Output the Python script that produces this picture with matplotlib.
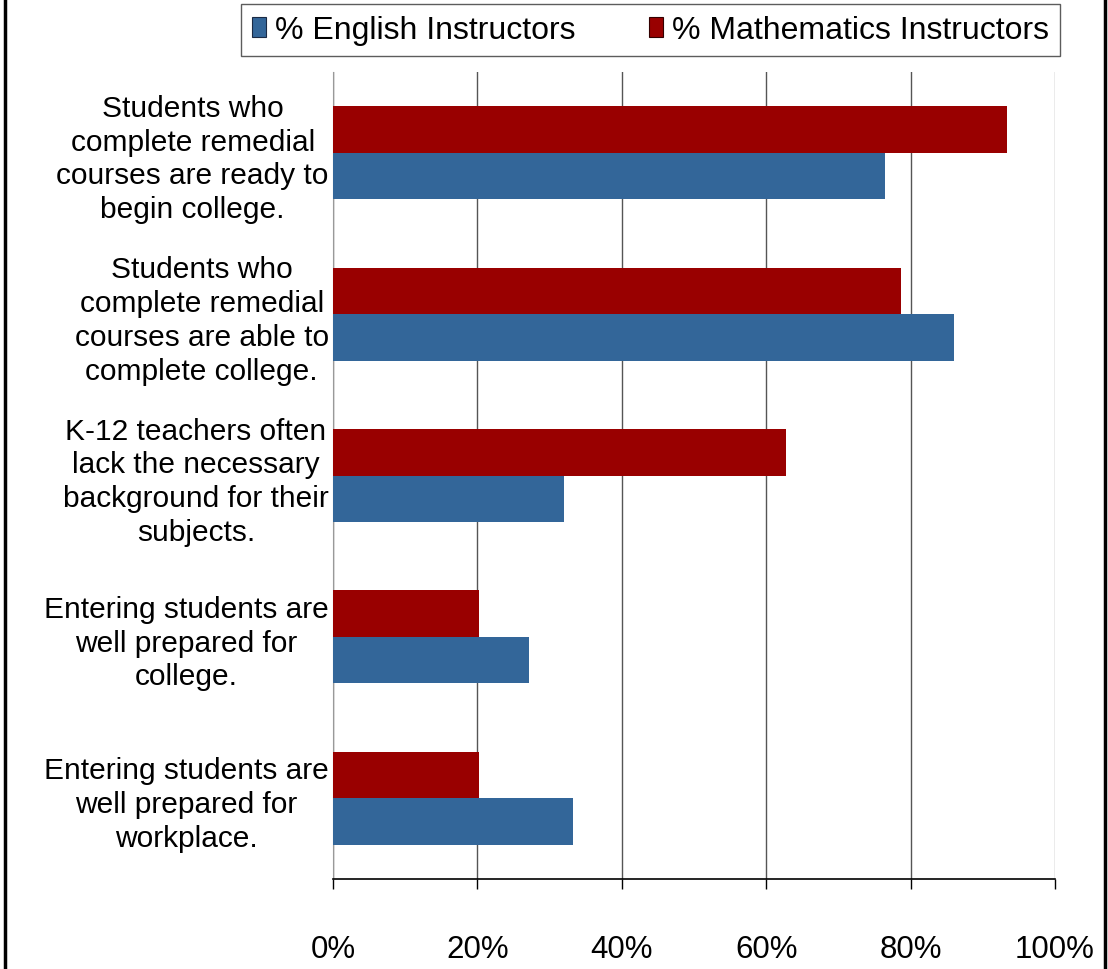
import matplotlib.pyplot as plt
from matplotlib.patches import Patch
from matplotlib.lines import Line2D
import numpy as np

plt.rcParams['font.family'] = ['Liberation Sans', 'DejaVu Sans']

categories = [
    "Students who\ncomplete remedial\ncourses are ready to\nbegin college.",
    "Students who\ncomplete remedial\ncourses are able to\ncomplete college.",
    "K-12 teachers often\nlack the necessary\nbackground for their\nsubjects.",
    "Entering students are\nwell prepared for\ncollege.",
    "Entering students are\nwell prepared for\nworkplace.",
]
english_pct = [76.5, 86.0, 32.0, 27.2, 33.2]
math_pct = [93.3, 78.7, 62.8, 20.2, 20.2]
x_ticks = [0, 20, 40, 60, 80, 100]

blue = '#336699'
red = '#990000'

fig = plt.figure(figsize=(11.08, 9.70), dpi=100)
ax = fig.add_axes([333 / 1108, 1 - 880 / 970, (1055 - 333) / 1108, (880 - 73) / 970])

y = np.arange(len(categories))
h = 0.288
ax.barh(y - h / 2, math_pct, height=h, color=red, zorder=3)
ax.barh(y + h / 2, english_pct, height=h, color=blue, zorder=3)

ax.set_ylim(len(categories) - 0.5, -0.5)
ax.set_xlim(0, 100)
ax.set_xticks(x_ticks)
ax.set_xticklabels([f'{t}%' for t in x_ticks], fontsize=22.5)
ax.set_yticks(y)
ax.set_yticklabels(categories, fontsize=21.5, multialignment='center', linespacing=1.26)

ax.tick_params(axis='y', length=0, pad=3)
ax.tick_params(axis='x', direction='out', length=7.5, width=1, pad=32, color='black')

ax.grid(True, axis='x', color='#555555', linewidth=1, zorder=0)
ax.xaxis.get_gridlines()[-1].set_color('#999999')
for side in ['top', 'right']:
    ax.spines[side].set_visible(False)
ax.spines['left'].set_color('#999999')
ax.spines['bottom'].set_color('black')
ax.spines['bottom'].set_linewidth(1.2)

handles = [Patch(facecolor=blue, edgecolor='#1a2a44', linewidth=0.8),
           Patch(facecolor=red, edgecolor='#330000', linewidth=0.8)]
leg = fig.legend(handles, ['% English Instructors', '% Mathematics Instructors'],
                 loc='upper left', bbox_to_anchor=(241 / 1108, 1 - 5 / 970),
                 ncol=2, fontsize=23, frameon=True, fancybox=False,
                 handlelength=0.42, handleheight=0.6, handletextpad=0.3,
                 columnspacing=2.3, borderpad=0.35, borderaxespad=0)
leg.get_frame().set_edgecolor('#333333')
leg.get_frame().set_linewidth(1)

# outer frame lines on the left and right edges
fig.add_artist(Line2D([5 / 1108, 5 / 1108], [0, 1], color='black', linewidth=2.5))
fig.add_artist(Line2D([1105 / 1108, 1105 / 1108], [0, 1], color='black', linewidth=2.5))

plt.savefig('out.png', dpi=100)
plt.close()
